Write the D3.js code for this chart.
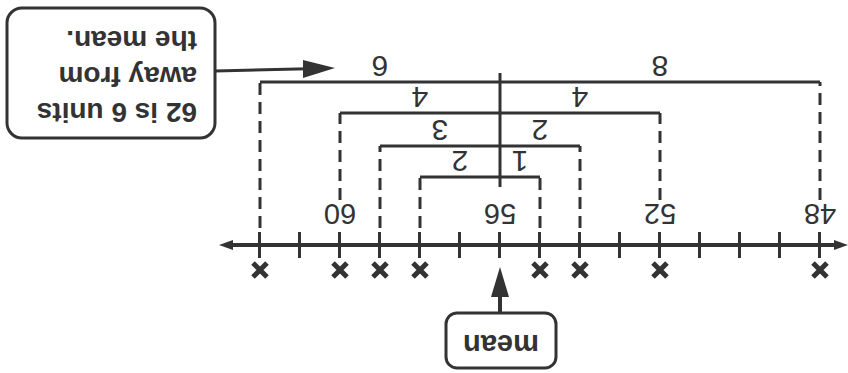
<!DOCTYPE html>
<html>
<head>
<meta charset="utf-8">
<script src="https://cdn.jsdelivr.net/npm/d3@7"></script>
<style>
  body { margin: 0; background: #fff; }
  svg { display: block; }
  text { font-family: "Liberation Sans", Arial, sans-serif; fill: #333; }
</style>
</head>
<body>
<svg id="chart" width="848" height="373"></svg>
<script>
// data points (x marks) on the number line
const values = [48, 52, 54, 55, 58, 59, 60, 62];
const mean = 56;
const tickValues = d3.range(48, 63);
const tickLabels = [48, 52, 56, 60];
// pairs of points joined by a bracket, outermost first
const bracketLow = [48, 52, 54, 55];
const bracketHigh = [62, 60, 59, 58];
const bracketLowDist = [8, 4, 2, 1];
const bracketHighDist = [6, 4, 3, 2];
const calloutLines = ["62 is 6 units", "away from", "the mean."];

const ink = "#333";
const svg = d3.select("#chart");
const W = 848, H = 373;

// whole figure is drawn upright and then turned upside down like the scan
const g = svg.append("g").attr("transform", `rotate(180 ${W / 2} ${H / 2})`);

const xs = d3.scaleLinear().domain([48, 62]).range([28, 588]);
const axisY = 128;
const bracketY = d3.scaleOrdinal().domain(d3.range(4)).range([291, 260, 227, 196]);

// main line with arrows
g.append("line")
  .attr("x1", 6).attr("x2", 623)
  .attr("y1", axisY).attr("y2", axisY)
  .attr("stroke", ink).attr("stroke-width", 4);
g.append("path").attr("d", `M0,${axisY} L14,${axisY - 5} L14,${axisY + 5}Z`).attr("fill", ink);
g.append("path").attr("d", `M629,${axisY} L615,${axisY - 5} L615,${axisY + 5}Z`).attr("fill", ink);

// ticks
const axis = d3.axisBottom(xs).tickValues(tickValues).tickSize(26).tickFormat("");
const ax = g.append("g").attr("transform", `translate(0,${axisY - 13})`).call(axis);
ax.select(".domain").remove();
ax.selectAll(".tick line").attr("stroke", ink).attr("stroke-width", 3);

// tick labels
g.append("g").selectAll("text").data(tickLabels).join("text")
  .attr("x", d => xs(d)).attr("y", 169)
  .attr("text-anchor", "middle")
  .attr("font-size", 29)
  .text(d => d);

// x marks
const xm = g.append("g").selectAll("g").data(values).join("g")
  .attr("transform", d => `translate(${xs(d)},103)`);
xm.append("path")
  .attr("d", "M-7,-7L7,7M-7,7L7,-7")
  .attr("stroke", ink).attr("stroke-width", 5);

// dashed leaders from points to brackets
const labelled = new Set(tickLabels);
const leaders = [];
bracketLow.forEach((v, i) => {
  leaders.push({ v, i });
  leaders.push({ v: bracketHigh[i], i });
});
g.append("g").selectAll("line").data(leaders).join("line")
  .attr("x1", d => xs(d.v)).attr("x2", d => xs(d.v))
  .attr("y1", d => (labelled.has(d.v) ? 173 : 145))
  .attr("y2", d => bracketY(d.i))
  .attr("stroke", ink).attr("stroke-width", 3)
  .attr("stroke-dasharray", "12,7");

// brackets
g.append("g").selectAll("line").data(bracketLow).join("line")
  .attr("x1", d => xs(d)).attr("x2", (d, i) => xs(bracketHigh[i]))
  .attr("y1", (d, i) => bracketY(i)).attr("y2", (d, i) => bracketY(i))
  .attr("stroke", ink).attr("stroke-width", 3);

// distance numbers
const distG = g.append("g").attr("font-size", 30).attr("text-anchor", "middle");
distG.selectAll("text.lo").data(bracketLow).join("text").attr("class", "lo")
  .attr("x", d => (xs(d) + xs(mean)) / 2)
  .attr("y", (d, i) => bracketY(i) + 26)
  .text((d, i) => bracketLowDist[i]);
distG.selectAll("text.hi").data(bracketHigh).join("text").attr("class", "hi")
  .attr("x", d => (xs(d) + xs(mean)) / 2)
  .attr("y", (d, i) => bracketY(i) + 26)
  .text((d, i) => bracketHighDist[i]);

// mean line
g.append("line")
  .attr("x1", xs(mean)).attr("x2", xs(mean))
  .attr("y1", 186).attr("y2", 300)
  .attr("stroke", ink).attr("stroke-width", 3);

// mean label and arrow
const mx = xs(mean);
g.append("line").attr("x1", mx).attr("x2", mx).attr("y1", 60).attr("y2", 80)
  .attr("stroke", ink).attr("stroke-width", 4);
g.append("path").attr("d", `M${mx},106 L${mx - 9},76 L${mx + 9},76Z`).attr("fill", ink);
g.append("rect")
  .attr("x", mx - 56).attr("y", 5).attr("width", 110).attr("height", 55)
  .attr("rx", 11)
  .attr("fill", "#fff").attr("stroke", ink).attr("stroke-width", 3);
g.append("text")
  .attr("x", mx - 1).attr("y", 38)
  .attr("text-anchor", "middle")
  .attr("font-size", 29).attr("font-weight", "bold")
  .text("mean");

// callout box
g.append("rect")
  .attr("x", 633).attr("y", 235).attr("width", 208).attr("height", 130)
  .attr("rx", 15)
  .attr("fill", "#fff").attr("stroke", ink).attr("stroke-width", 3);
g.append("g").selectAll("text").data(calloutLines).join("text")
  .attr("x", 651).attr("y", (d, i) => 270 + i * 36)
  .attr("font-size", 28).attr("font-weight", "bold")
  .text(d => d);
g.append("line").attr("x1", 633).attr("y1", 302).attr("x2", 540).attr("y2", 304.3)
  .attr("stroke", ink).attr("stroke-width", 3);
g.append("path").attr("d", "M513,305 L545,295 L545,313Z").attr("fill", ink);
</script>
</body>
</html>
